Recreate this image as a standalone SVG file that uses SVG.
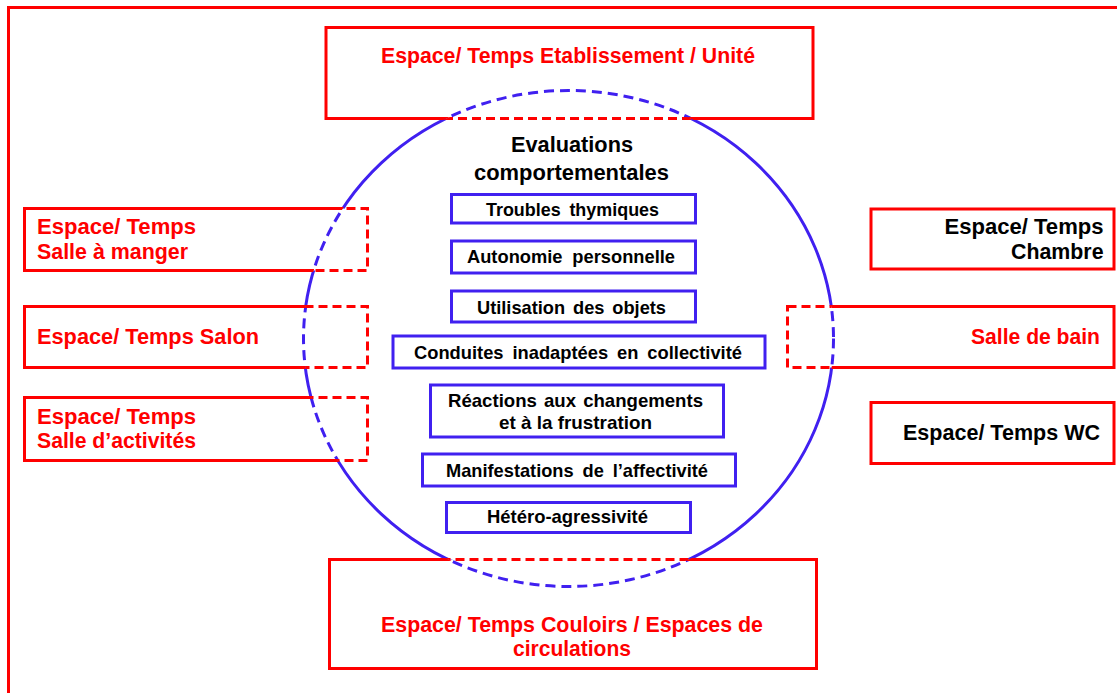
<svg xmlns="http://www.w3.org/2000/svg" width="1117" height="693" viewBox="0 0 1117 693">
<style>
.rb{fill:none;stroke:#FF0000;stroke-width:3}
.rbd{fill:none;stroke:#FF0000;stroke-width:3;stroke-dasharray:9 5}
.bb{fill:none;stroke:#4020F0;stroke-width:3}
.cs{fill:none;stroke:#4020F0;stroke-width:3}
.cd{fill:none;stroke:#4020F0;stroke-width:3;stroke-dasharray:10 6}
.t{font-family:"Liberation Sans",Arial,sans-serif;font-weight:bold}
.red{fill:#FF0000}
.blk{fill:#000000}
.s21{font-size:22px}
.s22{font-size:22px}
.s18{font-size:19px}
</style>
<defs>
<clipPath id="inC"><ellipse cx="568.5" cy="338.5" rx="265" ry="248"/></clipPath>
<clipPath id="outC"><path clip-rule="evenodd" d="M-20,-20H1140V720H-20Z M303.5,338.5 a265,248 0 1,0 530,0 a265,248 0 1,0 -530,0 Z"/></clipPath>
<clipPath id="inB">
<rect x="326" y="27.5" width="487" height="91"/>
<rect x="329.5" y="559.5" width="487" height="109"/>
<rect x="24.5" y="208.5" width="343" height="62"/>
<rect x="24.5" y="306.5" width="343" height="61"/>
<rect x="24.5" y="397.5" width="343" height="63"/>
<rect x="787.5" y="306.5" width="326.5" height="61"/>
</clipPath>
<clipPath id="outB"><path clip-rule="evenodd" d="M-20,-20H1140V720H-20Z M326,27.5h487v91h-487Z M329.5,559.5h487v109h-487Z M24.5,208.5h343v62h-343Z M24.5,306.5h343v61h-343Z M24.5,397.5h343v63h-343Z M787.5,306.5h326.5v61h-326.5Z"/></clipPath>
</defs>
<rect width="1117" height="693" fill="#FFFFFF"/>
<rect id="frame" class="rb" x="8.5" y="7.5" width="1200" height="800"/>

<g id="circle">
<ellipse class="cs" clip-path="url(#outB)" cx="568.5" cy="338.5" rx="265" ry="248"/>
<ellipse class="cd" clip-path="url(#inB)" cx="568.5" cy="338.5" rx="265" ry="248"/>
</g>

<g id="node-etablissement">
<rect class="rb" clip-path="url(#outC)" x="326" y="27.5" width="487" height="91"/>
<rect class="rbd" clip-path="url(#inC)" x="326" y="27.5" width="487" height="91"/>
<text class="t s21 red" x="381" y="63" textLength="374" lengthAdjust="spacingAndGlyphs">Espace/ Temps Etablissement / Unité</text>
</g>

<g id="node-couloirs">
<rect class="rb" clip-path="url(#outC)" x="329.5" y="559.5" width="487" height="109"/>
<rect class="rbd" clip-path="url(#inC)" x="329.5" y="559.5" width="487" height="109"/>
<text class="t s21 red" x="381" y="632" textLength="382" lengthAdjust="spacingAndGlyphs">Espace/ Temps Couloirs / Espaces de</text>
<text class="t s21 red" x="513" y="656" textLength="118" lengthAdjust="spacingAndGlyphs">circulations</text>
</g>

<g id="node-salle-manger">
<rect class="rb" clip-path="url(#outC)" x="24.5" y="208.5" width="343" height="62"/>
<rect class="rbd" clip-path="url(#inC)" x="24.5" y="208.5" width="343" height="62"/>
<text class="t s21 red" x="37" y="233.5" textLength="159" lengthAdjust="spacingAndGlyphs">Espace/ Temps</text>
<text class="t s21 red" x="37" y="258.5" textLength="151" lengthAdjust="spacingAndGlyphs">Salle à manger</text>
</g>

<g id="node-salon">
<rect class="rb" clip-path="url(#outC)" x="24.5" y="306.5" width="343" height="61"/>
<rect class="rbd" clip-path="url(#inC)" x="24.5" y="306.5" width="343" height="61"/>
<text class="t s21 red" x="37" y="344" textLength="222" lengthAdjust="spacingAndGlyphs">Espace/ Temps Salon</text>
</g>

<g id="node-activites">
<rect class="rb" clip-path="url(#outC)" x="24.5" y="397.5" width="343" height="63"/>
<rect class="rbd" clip-path="url(#inC)" x="24.5" y="397.5" width="343" height="63"/>
<text class="t s21 red" x="37" y="423.5" textLength="159" lengthAdjust="spacingAndGlyphs">Espace/ Temps</text>
<text class="t s21 red" x="37" y="448" textLength="159" lengthAdjust="spacingAndGlyphs">Salle d’activités</text>
</g>

<g id="node-chambre">
<rect class="rb" x="871" y="209" width="243" height="60"/>
<text class="t s21 blk" x="944.5" y="233.5" textLength="159" lengthAdjust="spacingAndGlyphs">Espace/ Temps</text>
<text class="t s21 blk" x="1011" y="258.5" textLength="92.5" lengthAdjust="spacingAndGlyphs">Chambre</text>
</g>

<g id="node-salle-bain">
<rect class="rb" clip-path="url(#outC)" x="787.5" y="306.5" width="326.5" height="61"/>
<rect class="rbd" clip-path="url(#inC)" x="787.5" y="306.5" width="326.5" height="61"/>
<text class="t s21 red" x="971" y="344" textLength="129" lengthAdjust="spacingAndGlyphs">Salle de bain</text>
</g>

<g id="node-wc">
<rect class="rb" x="871" y="402.5" width="243" height="61"/>
<text class="t s21 blk" x="903" y="439.5" textLength="197" lengthAdjust="spacingAndGlyphs">Espace/ Temps WC</text>
</g>

<g id="node-title">
<text class="t s22 blk" x="511" y="152" textLength="122" lengthAdjust="spacingAndGlyphs">Evaluations</text>
<text class="t s22 blk" x="474" y="180" textLength="195" lengthAdjust="spacingAndGlyphs">comportementales</text>
</g>

<g id="node-troubles">
<rect class="bb" x="451.5" y="194.5" width="244" height="28.5"/>
<text class="t s18 blk" x="486" y="216" textLength="173" lengthAdjust="spacingAndGlyphs" word-spacing="4">Troubles thymiques</text>
</g>

<g id="node-autonomie">
<rect class="bb" x="451.5" y="241" width="244" height="32"/>
<text class="t s18 blk" x="467" y="263" textLength="208" lengthAdjust="spacingAndGlyphs" word-spacing="5">Autonomie personnelle</text>
</g>

<g id="node-utilisation">
<rect class="bb" x="451.5" y="291" width="244" height="31"/>
<text class="t s18 blk" x="477" y="313.5" textLength="189" lengthAdjust="spacingAndGlyphs" word-spacing="3">Utilisation des objets</text>
</g>

<g id="node-conduites">
<rect class="bb" x="393" y="336" width="372" height="32"/>
<text class="t s18 blk" x="414" y="359" textLength="328" lengthAdjust="spacingAndGlyphs" word-spacing="4">Conduites inadaptées en collectivité</text>
</g>

<g id="node-reactions">
<rect class="bb" x="430.5" y="385" width="293" height="52"/>
<text class="t s18 blk" x="448" y="407" textLength="255" lengthAdjust="spacingAndGlyphs" word-spacing="2">Réactions aux changements</text>
<text class="t s18 blk" x="499" y="429" textLength="153" lengthAdjust="spacingAndGlyphs">et à la frustration</text>
</g>

<g id="node-manifestations">
<rect class="bb" x="422.5" y="454" width="313" height="32"/>
<text class="t s18 blk" x="446" y="477" textLength="262" lengthAdjust="spacingAndGlyphs" word-spacing="4">Manifestations de l’affectivité</text>
</g>

<g id="node-hetero">
<rect class="bb" x="446.5" y="502.5" width="244" height="30"/>
<text class="t s18 blk" x="487" y="522.5" textLength="161" lengthAdjust="spacingAndGlyphs">Hétéro-agressivité</text>
</g>

<g id="connectors"></g>
</svg>
